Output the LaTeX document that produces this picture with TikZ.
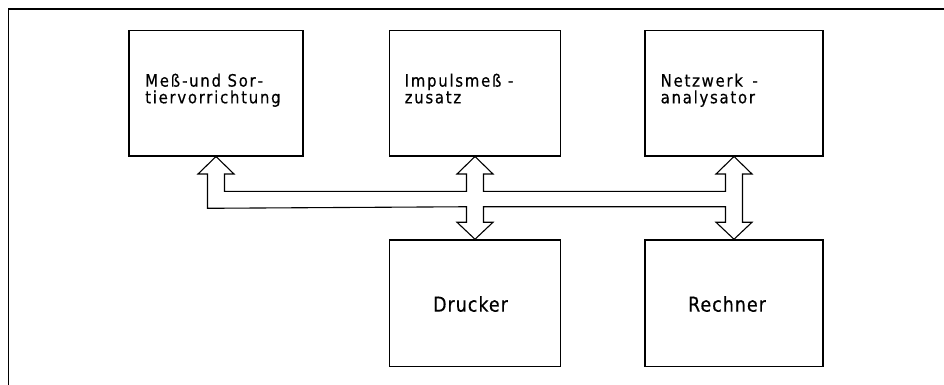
\documentclass[tikz,border=0pt]{standalone}
\usepackage{fontspec}
\newfontfamily\topfont{DejaVu Sans}[FakeStretch=0.88,LetterSpace=10,FakeBold=0.4]
\newfontfamily\botfont{DejaVu Sans}[FakeStretch=0.85,LetterSpace=5,FakeBold=0.4]
\usetikzlibrary{calc}
\begin{document}
\begin{tikzpicture}[x=1pt,y=-1pt,
  unit/.style={draw,line width=1.6pt,fill=white,inner sep=0pt,minimum height=125pt},
  toplabel/.style={anchor=base west,inner sep=0pt,align=left,
    font={\topfont\fontsize{17}{16.7}\selectfont}},
  botlabel/.style={inner sep=0pt,font={\botfont\fontsize{20.5}{24}\selectfont}},
  bus/.style={draw,line width=1.1pt,fill=white,line join=miter},
  frame/.style={line width=1.4pt}]
\fill[white] (0,0) rectangle (944,385);
\useasboundingbox (0,0) rectangle (944,385);
\draw[frame] (944,9) -- (8.5,9) -- (8.5,385);
% units
\node[unit,minimum width=174pt] (b1) at (216,93.2) {};
\node[unit,minimum width=171pt] (b2) at (475,93.2) {};
\node[unit,minimum width=177.5pt] (b3) at (734,93.2) {};
\node[unit,minimum width=171pt,minimum height=126.5pt] (b4) at (475,303.3) {};
\node[unit,minimum width=178pt,minimum height=126.5pt] (b5) at (734,303.3) {};
% labels
\node[toplabel] (t1) at (145,103.3) {Meß-und Sor\hspace{2pt}-\\tiervorrichtung};
\node[toplabel] (t2) at (404.5,103.3) {Impulsmeß -\\zusatz};
\node[toplabel] (t3) at (660.5,103.3) {Netzwerk\hspace{3pt} -\\analysator};
\node[botlabel] (t4) at (470.5,304) {Drucker};
\node[botlabel] (t5) at (727,304) {Rechner};
% bus with double arrows
\coordinate (L) at (b1.south);
\coordinate (M) at (b2.south);
\coordinate (R) at (b3.south);
\coordinate (D) at (b4.north);
\coordinate (E) at (b5.north);
\path[bus] ($(M)+(-8.5,34.8)$) -- ($(L)+(8.5,34.8)$) -- ($(L)+(8.5,17.5)$)
  -- ($(L)+(18,17.5)$) -- (L) -- ($(L)+(-18,17.5)$) -- ($(L)+(-8.5,17.5)$)
  -- ($(L)+(-8.5,51.8)$) -- ($(D)+(-8.5,-32.5)$) -- ($(D)+(-8.5,-17)$)
  -- ($(D)+(-18,-17)$) -- (D) -- ($(D)+(18,-17)$) -- ($(D)+(8.5,-17)$)
  -- ($(D)+(8.5,-32.5)$) -- ($(E)+(-8.5,-32.5)$) -- ($(E)+(-8.5,-17)$)
  -- ($(E)+(-18,-17)$) -- (E) -- ($(E)+(18,-17)$) -- ($(E)+(8.5,-17)$)
  -- ($(R)+(8.5,17.5)$) -- ($(R)+(18,17.5)$) -- (R) -- ($(R)+(-18,17.5)$)
  -- ($(R)+(-8.5,17.5)$) -- ($(R)+(-8.5,34.8)$) -- ($(M)+(8.5,34.8)$)
  -- ($(M)+(8.5,17.5)$) -- ($(M)+(18,17.5)$) -- (M) -- ($(M)+(-18,17.5)$)
  -- ($(M)+(-8.5,17.5)$) -- cycle;
\end{tikzpicture}
\end{document}
